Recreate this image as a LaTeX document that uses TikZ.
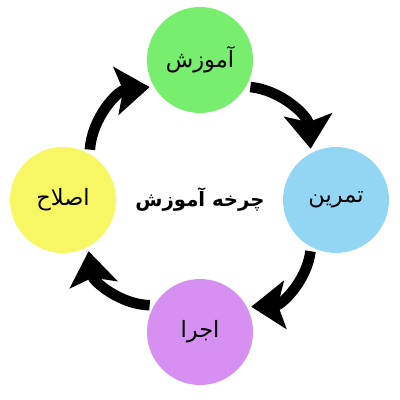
\documentclass[tikz,border=0pt]{standalone}
\usepackage{fontspec}
\usepackage{xcolor}
\usepackage{tikz}
\usetikzlibrary{arrows.meta}
\TeXXeTstate=1
\newfontfamily\farsi[Script=Arabic]{DejaVu Sans}
\definecolor{sabz}{HTML}{78EE6E}
\definecolor{abi}{HTML}{93D6F3}
\definecolor{banafsh}{HTML}{D590F2}
\definecolor{zard}{HTML}{F7F763}
\tikzstyle{marhale}=[circle, minimum size=2.65cm, inner sep=0pt,
  font=\farsi\fontsize{16}{18}\selectfont]
\tikzstyle{onvan}=[font=\farsi\bfseries\fontsize{14}{17}\selectfont]
\tikzstyle{line}=[draw, line width=7.5pt, color=black,
  -{Stealth[length=24pt,width=34pt,inset=5pt]}, shorten <=3pt, shorten >=3pt]
\newcommand{\marhale}[3]{node (m#1) [marhale, fill=#2]
  {\beginR #3\endR}}

\begin{document}
\begin{tikzpicture}

  % Draw diagram elements
\path[use as bounding box] (-5,-5) rectangle (5,5);
\path (0,0) node (c)[onvan] {\beginR چرخه آموزش\endR};
\path (c)+(0,3.5) \marhale{1}{sabz}{آموزش};
\path (c)+(3.4,0) \marhale{2}{abi}{تمرین};
\path (c)+(0,-3.3) \marhale{3}{banafsh}{اجرا};
\path (c)+(-3.425,0) \marhale{4}{zard}{اصلاح};

  % Draw arrows between elements
\path [line] (m1.-30) to[bend left=40] (m2.118);
\path [line] (m2.-118) to[bend left=40] (m3.28);
\path [line] (m3.150) to[bend left=40] (m4.-62);
\path [line] (m4.60) to[bend left=40] (m1.-150);
\end{tikzpicture}
\end{document}
